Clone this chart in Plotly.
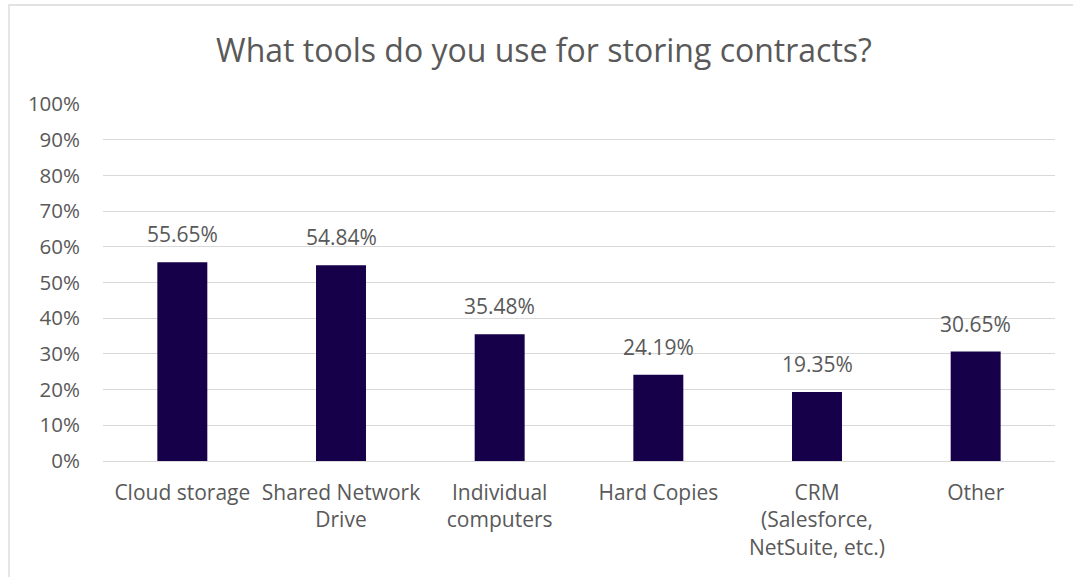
import plotly.graph_objects as go

categories = ["Cloud storage", "Shared Network<br>Drive", "Individual<br>computers",
              "Hard Copies", "CRM<br>(Salesforce,<br>NetSuite, etc.)", "Other"]
shares = [0.5565, 0.5484, 0.3548, 0.2419, 0.1935, 0.3065]
y_ticks = [i / 10 for i in range(11)]

W, H = 1073, 577
ML, MR, MT, MB = 103, 18, 104, 116
PW, PH = W - ML - MR, H - MT - MB

BAR = "#17004a"
TXT = "#595959"
GRID = "#d9d9d9"
FONT = "Open Sans, Carlito, Calibri, sans-serif"

fig = go.Figure(go.Bar(x=categories, y=shares, marker=dict(color=BAR, line=dict(width=0)),
                       width=0.315, hoverinfo="skip"))

# value labels above each bar
for c, v in zip(categories, shares):
    fig.add_annotation(x=c, y=v, text=f"{v*100:.2f}%", showarrow=False,
                       yanchor="bottom", yshift=12,
                       font=dict(family=FONT, size=21, color=TXT))

# outer chart border
def px_x(p):
    return (p - ML) / PW

def px_y(p):
    return (H - MB - p) / PH

fig.add_shape(type="rect", xref="paper", yref="paper",
              x0=px_x(9), x1=px_x(1080), y0=px_y(5), y1=px_y(582),
              line=dict(color="#d9d9d9", width=1.3), fillcolor="rgba(0,0,0,0)", layer="below")

fig.update_layout(
    width=W, height=H,
    margin=dict(l=ML, r=MR, t=MT, b=MB),
    paper_bgcolor="white", plot_bgcolor="white",
    title=dict(text="What tools do you use for storing contracts?", x=544 / W, xref="container",
               xanchor="center", y=1 - 51 / H, yanchor="middle",
               font=dict(family=FONT, size=32, color=TXT)),
    showlegend=False,
    bargap=0.685,
    xaxis=dict(showgrid=False, showline=False, ticks="", ticklabelstandoff=17,
               tickfont=dict(family=FONT, size=21, color=TXT), fixedrange=True),
    yaxis=dict(range=[0, 1], tickvals=y_ticks, tickformat=".0%",
               showgrid=True, gridcolor=GRID, gridwidth=1.3,
               zeroline=True, zerolinecolor=GRID, zerolinewidth=1.3,
               showline=False, ticks="", ticklabelstandoff=22,
               tickfont=dict(family=FONT, size=20.5, color=TXT), fixedrange=True),
)

fig.write_html("out.html")
